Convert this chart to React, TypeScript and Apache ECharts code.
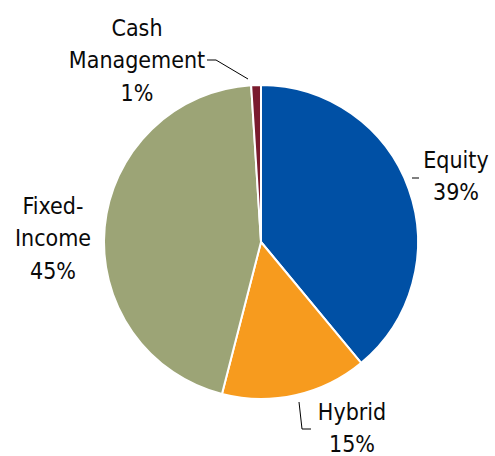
import React, { useEffect, useRef } from "react";
import * as echarts from "echarts";

const categories = ["Equity", "Hybrid", "Fixed-\nIncome", "Cash\nManagement"];
const values = [39, 15, 45, 1];
const colors = ["#0050A5", "#F79B1E", "#9CA476", "#7A1B2E"];

// label anchor positions (centre of text block) and leader lines
const labelPos: [number, number][] = [
  [456, 176],
  [352, 428],
  [53, 238],
  [137, 60],
];
const leaderLines: ([number, number][] | null)[] = [
  [[412, 178], [415, 178], [419, 178]],
  [[299, 402], [302, 429], [311, 429]],
  null,
  [[248, 79], [216, 60], [207, 60]],
];

export default function App() {
  const ref = useRef<HTMLDivElement>(null);
  useEffect(() => {
    const chart = echarts.init(ref.current!, undefined, { renderer: "svg" });
    chart.setOption({
      animation: false,
      backgroundColor: "#ffffff",
      series: [
        {
          type: "pie",
          center: [261, 242],
          radius: [0, 157],
          startAngle: 90,
          clockwise: true,
          itemStyle: { borderColor: "#ffffff", borderWidth: 2 },
          label: {
            show: true,
            formatter: (p: any) => `${p.name}\n${p.value}%`,
            fontFamily: "'DejaVu Sans Condensed', 'Liberation Sans', sans-serif",
            fontSize: 23,
            lineHeight: 32.5,
            color: "#0a0a0a",
            align: "center",
            overflow: "none",
            width: 200,
          },
          labelLine: {
            show: true,
            lineStyle: { color: "#000000", width: 1 },
          },
          labelLayout: (params: any) => {
            const i = params.dataIndex;
            const res: any = {
              x: labelPos[i][0],
              y: labelPos[i][1],
              align: "center",
              verticalAlign: "middle",
            };
            if (leaderLines[i]) res.labelLinePoints = leaderLines[i];
            return res;
          },
          data: categories.map((name, i) => ({
            name,
            value: values[i],
            itemStyle: { color: colors[i] },
            labelLine: { show: leaderLines[i] !== null },
          })),
        },
      ],
    });
    return () => chart.dispose();
  }, []);
  return (
    <div
      ref={ref}
      style={{ position: "fixed", left: 0, top: 0, width: 495, height: 456 }}
    />
  );
}
